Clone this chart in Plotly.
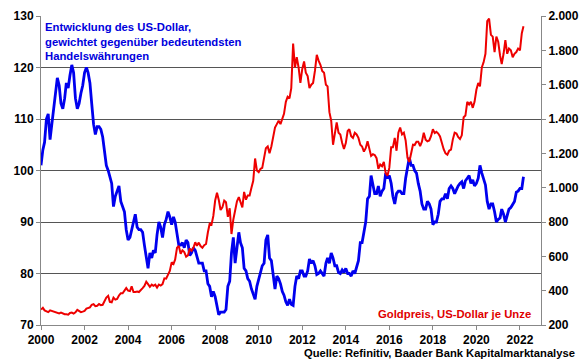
import pandas as pd
import plotly.graph_objects as go

# Monthly dates Jan 2000 - Mar 2022
start_month = "2000-01-01"
n_months = 267
dates = pd.date_range(start_month, periods=n_months, freq="MS")

usd_index = [
    # 2000
    101, 104, 105.5, 110, 111, 106, 109, 112, 115, 118, 116.5, 113,
    # 2001
    112, 114, 117, 116, 118.5, 120.5, 119, 114, 112, 113, 115, 116.5,
    # 2002
    119, 120, 119, 117, 113, 109, 107, 108.5, 108.5, 108, 106.5, 104,
    # 2003
    101, 100, 99, 97.5, 93, 95, 96, 97, 94, 93, 92, 88.5,
    # 2004
    86.5, 87, 88.5, 90, 91.5, 89, 88.5, 88.5, 88, 85.5, 83, 81,
    # 2005
    84, 83, 84.5, 84, 87.5, 90, 89, 87, 89.5, 90.5, 92, 91,
    # 2006
    89.5, 91, 90, 87.5, 85.5, 85.5, 86, 85, 86.5, 86, 83.5, 84,
    # 2007
    85, 84.5, 83, 82, 82, 82, 80.5, 80.5, 78, 77.5, 75.5, 76.5,
    # 2008
    75.5, 74, 72, 72.5, 72.5, 72.5, 73, 77.5, 78.5, 84, 87, 82,
    # 2009
    85, 88, 86, 85, 81, 80.5, 79, 78.5, 77, 76, 75, 77.5,
    # 2010
    79, 80.5, 81.5, 82, 86.5, 87.5, 83, 82.5, 79.5, 77, 79.5, 79,
    # 2011
    78, 76.5, 75.8, 74.5, 73.8, 75, 74, 73.8, 77.5, 79.5, 79, 80.5,
    # 2012
    80.5, 79.5, 79.5, 80.5, 82.8, 82, 82.5, 81.5, 79.8, 80, 80.5, 80,
    # 2013
    79.5, 82, 83, 82, 84, 83, 81.5, 81.5, 80.2, 80, 80.7, 80.2,
    # 2014
    81, 80, 80, 79.5, 80.5, 80, 81.5, 82.5, 86, 86, 88, 90,
    # 2015
    94.5, 95, 99, 97, 95.5, 95.5, 97, 95, 96, 96.5, 99.5, 98.5,
    # 2016
    99, 97.5, 95, 93.5, 95.5, 96, 96, 95.5, 95.5, 98.5, 101, 102.5,
    # 2017
    101, 101, 100, 99.5, 97.5, 96, 93.5, 92.5, 92.5, 94, 93.5, 92.5,
    # 2018
    89.5, 90, 90, 91.5, 94, 94.5, 94.5, 95.5, 94.5, 96.5, 97, 96.5,
    # 2019
    95.5, 96.5, 97, 97.5, 97.8, 96.5, 98, 98.5, 99, 97.5, 98.2, 97,
    # 2020
    97.5, 98.5, 101, 99.5, 98.5, 97.2, 94, 92.5, 93.5, 93.5, 92, 90,
    # 2021
    90.5, 90.8, 92.5, 91.5, 90, 91.5, 92.5, 92.8, 93.5, 94, 95.8, 96,
    # 2022
    96.5, 96.5, 98.8,
]

gold_price = [
    # 2000
    290, 300, 285, 280, 275, 285, 282, 275, 273, 270, 268, 272,
    # 2001
    266, 263, 262, 260, 270, 272, 266, 274, 288, 280, 275, 278,
    # 2002
    282, 295, 298, 303, 318, 322, 310, 312, 322, 316, 318, 342,
    # 2003
    360, 370, 335, 332, 360, 348, 352, 372, 385, 385, 398, 415,
    # 2004
    400, 398, 425, 392, 392, 395, 392, 407, 415, 428, 452, 438,
    # 2005
    422, 435, 428, 435, 418, 436, 430, 438, 472, 470, 495, 515,
    # 2006
    565, 555, 582, 650, 660, 615, 635, 625, 598, 605, 645, 632,
    # 2007
    650, 682, 662, 680, 660, 650, 665, 672, 740, 790, 785, 835,
    # 2008
    925, 970, 930, 870, 885, 925, 915, 830, 880, 730, 815, 870,
    # 2009
    920, 945, 920, 885, 975, 930, 955, 955, 1000, 1040, 1170, 1100,
    # 2010
    1090, 1110, 1115, 1170, 1230, 1240, 1200, 1240, 1300, 1350, 1370, 1390,
    # 2011
    1370, 1400, 1430, 1500, 1530, 1520, 1580, 1840, 1700, 1760, 1700, 1610,
    # 2012
    1690, 1735, 1670, 1650, 1580, 1600, 1610, 1680, 1774, 1740, 1716, 1680,
    # 2013
    1670, 1600, 1590, 1440, 1390, 1250, 1320, 1380, 1320, 1310, 1260, 1225,
    # 2014
    1260, 1330, 1340, 1300, 1290, 1320, 1310, 1290, 1250, 1240, 1210, 1230,
    # 2015
    1270, 1215, 1185, 1195, 1190, 1172, 1110, 1135, 1125, 1150, 1085, 1070,
    # 2016
    1115, 1235, 1235, 1290, 1215, 1320, 1350, 1310, 1320, 1275, 1175, 1150,
    # 2017
    1210, 1250, 1248, 1268, 1268, 1242, 1268, 1320, 1280, 1270, 1275, 1300,
    # 2018
    1340, 1318, 1325, 1315, 1298, 1252, 1224, 1200, 1192, 1215, 1222, 1280,
    # 2019
    1320, 1315, 1295, 1283, 1305, 1410, 1420, 1500, 1485, 1500, 1465, 1500,
    # 2020
    1570, 1610, 1590, 1700, 1730, 1780, 1970, 1985, 1890, 1880, 1790, 1880,
    # 2021
    1850, 1770, 1720, 1780, 1860, 1780, 1810, 1800, 1760, 1780, 1790, 1810,
    # 2022
    1800, 1900, 1940,
]

left_ticks = [70, 80, 90, 100, 110, 120, 130]
right_ticks = [200, 400, 600, 800, 1000, 1200, 1400, 1600, 1800, 2000]
right_tick_text = ["200", "400", "600", "800", "1.000", "1.200", "1.400", "1.600", "1.800", "2.000"]
year_ticks = list(range(2000, 2023, 2))

title_usd = "Entwicklung des US-Dollar,<br>gewichtet gegenüber bedeutendsten<br>Handelswährungen"
title_gold = "Goldpreis, US-Dollar je Unze"
source_text = "Quelle: Refinitiv, Baader Bank Kapitalmarktanalyse"

FONT = "Liberation Sans, Arial, sans-serif"

fig = go.Figure()
fig.add_trace(go.Scatter(x=dates, y=gold_price, mode="lines", yaxis="y2",
                         line=dict(color="#ee0000", width=2), name="Gold"))
fig.add_trace(go.Scatter(x=dates, y=usd_index, mode="lines", yaxis="y",
                         line=dict(color="#0000ee", width=2.8), name="USD"))

fig.update_layout(
    width=580, height=359,
    margin=dict(l=41, r=39, t=16, b=34, autoexpand=False),
    paper_bgcolor="white", plot_bgcolor="white",
    showlegend=False,
    font=dict(family=FONT, size=12, color="black"),
    xaxis=dict(
        type="date", automargin=False,
        range=["2000-01-01", "2022-12-20"],
        tickvals=[f"{y}-01-01" for y in year_ticks],
        ticktext=[str(y) for y in year_ticks],
        showgrid=False, showline=True, linecolor="#888888", linewidth=1,
        ticks="outside", ticklen=4, tickcolor="#888888",
        tickfont=dict(family=FONT, size=12, weight="bold"),
        zeroline=False,
    ),
    yaxis=dict(
        range=[70, 130], tickvals=left_ticks, automargin=False,
        showgrid=True, gridcolor="#555555", gridwidth=1,
        showline=True, linecolor="#888888", linewidth=1,
        ticks="outside", ticklen=4, tickcolor="#888888",
        tickfont=dict(family=FONT, size=12, weight="bold"),
        zeroline=False,
    ),
    yaxis2=dict(
        range=[200, 2000], tickvals=right_ticks, ticktext=right_tick_text,
        overlaying="y", side="right", showgrid=False, automargin=False,
        showline=True, linecolor="#888888", linewidth=1,
        ticks="outside", ticklen=4, tickcolor="#888888",
        tickfont=dict(family=FONT, size=12, weight="bold"),
        zeroline=False,
    ),
    annotations=[
        dict(text=title_usd, xref="paper", yref="paper", x=0.004, y=0.99,
             xanchor="left", yanchor="top", align="left", showarrow=False,
             font=dict(family=FONT, size=11.3, color="#0000dd", weight="bold")),
        dict(text=title_gold, xref="paper", yref="paper", x=0.984, y=0.035,
             xanchor="right", yanchor="middle", align="right", showarrow=False,
             font=dict(family=FONT, size=11.3, color="#e00000", weight="bold")),
        dict(text=source_text, xref="paper", yref="paper", x=1.072, y=-0.09,
             xanchor="right", yanchor="middle", align="right", showarrow=False,
             font=dict(family=FONT, size=11.2, color="black", weight="bold")),
    ],
)

fig.write_html(
    "out.html",
    config={"displayModeBar": False},
    post_script="document.body.style.margin='0';document.body.style.overflow='hidden';",
)
